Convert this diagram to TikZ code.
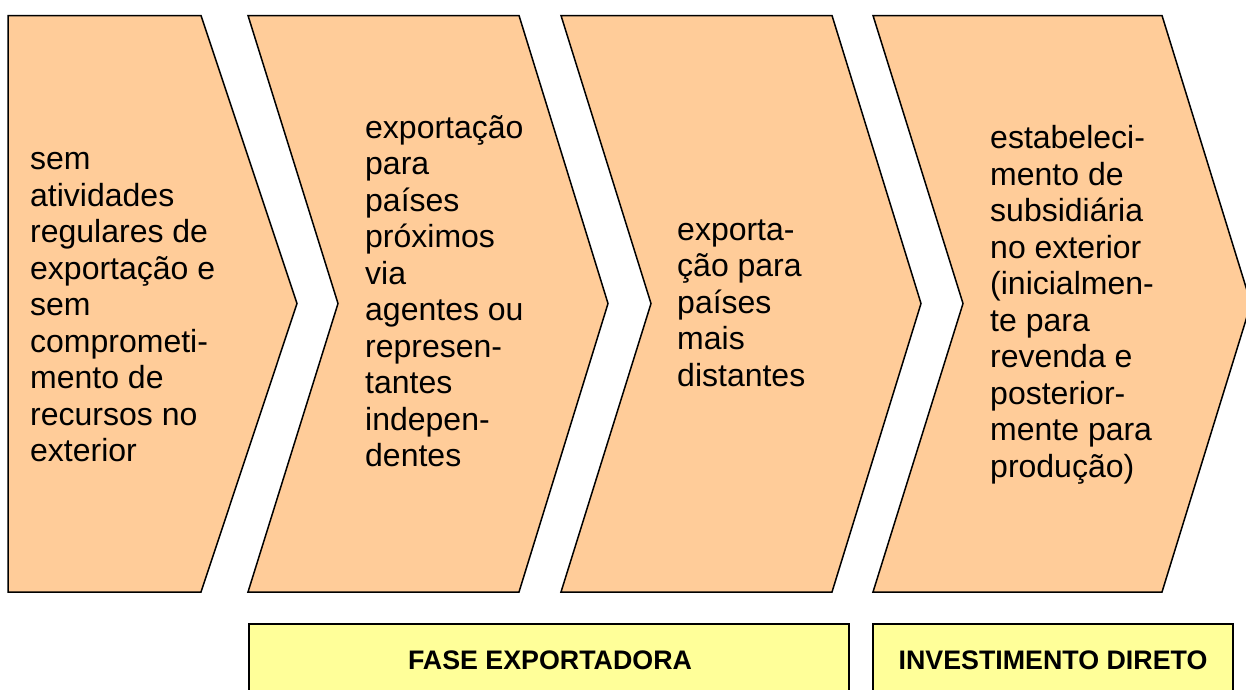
\documentclass[tikz,border=0pt]{standalone}
\usepackage{fontspec}
\setmainfont{Liberation Sans}
\definecolor{peach}{HTML}{FFCC99}
\definecolor{paleyellow}{HTML}{FFFF99}
\begin{document}
\begin{tikzpicture}[x=1pt, y=-1pt,
        chev/.style={draw=black, fill=peach, line width=1.5pt, line join=miter},
        phasebox/.style={draw=black, fill=paleyellow, line width=1.5pt},
        lbl/.style={anchor=west, align=left, inner sep=0pt, font=\fontsize{32pt}{36.5pt}\selectfont},
        phaselbl/.style={inner sep=0pt, font=\fontsize{26.8pt}{30pt}\selectfont\bfseries}]
    \useasboundingbox (0, 0) rectangle (1246, 689);
    \foreach \l/\r/\n/\t in {8/201/0/96, 248/519/90/89, 561/832/90/89, 873/1162/90/89} {
        \draw[chev] (\l, 15.5) -- (\r, 15.5) -- ({\r+\t}, 303.5) -- (\r, 592)
            -- (\l, 592) -- ({\l+\n}, 303.5) -- cycle;
    }
    \node[lbl] (stage1) at (30, 307.5) {sem\\atividades\\regulares de\\exportação e\\sem\\comprometi-\\mento de\\recursos no\\exterior};
    \node[lbl] (stage2) at (365, 291) {exportação\\para\\países\\próximos\\via\\agentes ou\\represen-\\tantes\\indepen-\\dentes};
    \node[lbl] (stage3) at (677, 303) {exporta-\\ção para\\países\\mais\\distantes};
    \node[lbl] (stage4) at (990, 305) {estabeleci-\\mento de\\subsidiária\\no exterior\\(inicialmen-\\te para\\revenda e\\posterior-\\mente para\\produção)};
    \draw[phasebox] (249, 624) rectangle (849, 700);
    \draw[phasebox] (873, 624) rectangle (1233, 700);
    \node[phaselbl] (fase) at (550, 660.5) {FASE EXPORTADORA};
    \node[phaselbl] (invest) at (1053, 660.5) {INVESTIMENTO DIRETO};
\end{tikzpicture}
\end{document}
